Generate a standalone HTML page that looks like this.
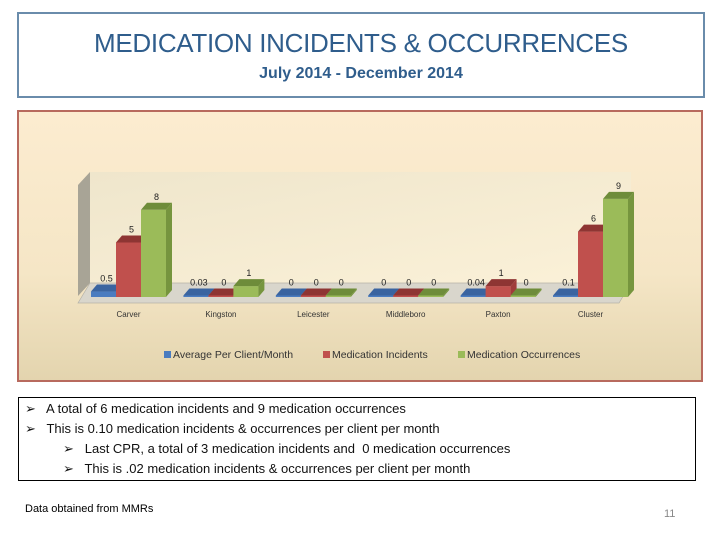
<!DOCTYPE html>
<html><head><meta charset="utf-8"><style>
body{margin:0;width:720px;height:540px;background:#fff;font-family:"Liberation Sans",sans-serif;position:relative;overflow:hidden}
#title-box{position:absolute;left:17px;top:12px;width:684px;height:82px;border:2px solid #6a8cab;box-sizing:content-box;text-align:center;color:#2f5d8c}
#t1{font-size:26px;margin-top:14px;letter-spacing:-0.3px}
#t2{font-size:16px;font-weight:bold;margin-top:6px}
#notes{position:absolute;left:18px;top:397px;width:676px;height:82px;border:1px solid #000;font-size:13px;color:#111}
.ln{position:absolute;white-space:nowrap}
</style></head><body>
<div id="title-box">
<div id="t1">MEDICATION INCIDENTS &amp; OCCURRENCES</div>
<div id="t2">July 2014 - December 2014</div>
</div>
<svg id="chart" width="720" height="540" style="position:absolute;left:0;top:0" font-family="Liberation Sans, sans-serif">
<defs>
<linearGradient id="bg" x1="0" y1="0" x2="0" y2="1"><stop offset="0" stop-color="#fcecd0"/><stop offset="0.6" stop-color="#f5e6c6"/><stop offset="1" stop-color="#e3d4ae"/></linearGradient>
<linearGradient id="wall" x1="0" y1="0" x2="1" y2="1"><stop offset="0" stop-color="#efe6cc"/><stop offset="1" stop-color="#fbf1d8"/></linearGradient>
</defs>
<rect x="18" y="111" width="684" height="270" fill="url(#bg)" stroke="#b86a5e" stroke-width="2"/>
<polygon points="90,172 631,172 631,283 90,283" fill="url(#wall)"/>
<polygon points="78,185 90,172 90,283 78,296" fill="#a8a496"/>
<polygon points="90,283 631,283 619,303 78,303" fill="#d9d6cc" stroke="#b5b2a8" stroke-width="0.7"/>
<g id="bars"></g>
<g id="legend"></g>
</svg>
<div id="notes">
<div class="ln" style="left:6px;top:3px">➢&nbsp;&nbsp; A total of 6 medication incidents and 9 medication occurrences</div>
<div class="ln" style="left:6px;top:23px">➢&nbsp;&nbsp; This is 0.10 medication incidents &amp; occurrences per client per month</div>
<div class="ln" style="left:44px;top:43px">➢&nbsp;&nbsp; Last CPR, a total of 3 medication incidents and&nbsp; 0 medication occurrences</div>
<div class="ln" style="left:44px;top:63px">➢&nbsp;&nbsp; This is .02 medication incidents &amp; occurrences per client per month</div>
</div>
<div class="ln" style="left:25px;top:503px;font-size:11px">Data obtained from MMRs</div>
<div class="ln" style="left:664px;top:508px;font-size:11px;color:#888">11</div>
<script>
const categories=["Carver","Kingston","Leicester","Middleboro","Paxton","Cluster"];
const avgPerClient=[0.5,0.03,0,0,0.04,0.1];
const incidents=[5,0,0,0,1,6];
const occurrences=[8,1,0,0,0,9];
const avgLabels=["0.5","0.03","0","0","0.04","0.1"];
const seriesNames=["Average Per Client/Month","Medication Incidents","Medication Occurrences"];
const NS="http://www.w3.org/2000/svg";
const g=document.getElementById('bars');
const base=297, scale=10.9, x0=91, step=92.4, bw=25, dx=6, dy=7;
const cols=[["#4a7cc0","#3a64a0","#2f5590"],["#c0504d","#8e3533","#a03c3a"],["#9bbb59","#6e8c3a","#76953e"]];
function yS(v){return base-v*scale;}
function el(t,a){const e=document.createElementNS(NS,t);for(const k in a)e.setAttribute(k,a[k]);return e;}
const series=[avgPerClient,incidents,occurrences];
categories.forEach((c,i)=>{
  series.forEach((s,j)=>{
    const v=s[i],x=x0+i*step+j*bw,yt=Math.min(yS(v),base-1.5),c3=cols[j];
    const front=el('rect',{x:x,y:yt,width:bw,height:base-yt,fill:c3[0]});
    
    
    g.appendChild(front);
    const top=el('polygon',{points:`${x},${yt} ${x+dx},${yt-dy} ${x+bw+dx},${yt-dy} ${x+bw},${yt}`,fill:c3[1]});
    
    
    g.appendChild(top);
    const side=el('polygon',{points:`${x+bw},${yt} ${x+bw+dx},${yt-dy} ${x+bw+dx},${base-dy} ${x+bw},${base}`,fill:c3[2]});
    
    
    g.appendChild(side);
    const lab=el('text',{x:x+bw/2+3,y:yt-10,'font-size':9,'text-anchor':'middle',fill:'#222'});
    lab.textContent=j===0?avgLabels[i]:String(v);
    
    
    g.appendChild(lab);
  });
  const t=el('text',{x:x0+i*step+bw*1.5,y:317,'font-size':8,'text-anchor':'middle',fill:'#333'});
  t.textContent=c;
  
  
  g.appendChild(t);
});
const lg=document.getElementById('legend');
const lx=[164,323,458];
seriesNames.forEach((n,j)=>{
  const r=el('rect',{x:lx[j],y:351,width:7,height:7,fill:cols[j][0]});
  
  
  lg.appendChild(r);
  const t=el('text',{x:lx[j]+9,y:358,'font-size':10.5,fill:'#333'});
  t.textContent=n;
  
  
  lg.appendChild(t);
});
</script>
</body></html>
